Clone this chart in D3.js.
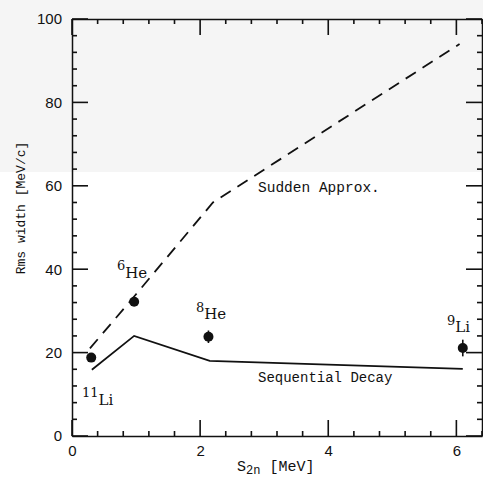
<!DOCTYPE html>
<html>
<head>
<script src="https://d3js.org/d3.v7.min.js"></script>
<style>
  body { margin: 0; background: #fff; }
  .tick text { font: 15px "Liberation Sans", sans-serif; fill: #111; }
  .axis path { stroke: #111; stroke-width: 1.5; }
  .tt { font-family: "Liberation Mono", monospace; fill: #111; }
  .nuc { font-family: "DejaVu Serif", serif; fill: #111; }
</style>
</head>
<body>
<svg id="chart"></svg>
<script>
// curves (S2n in MeV, rms width in MeV/c)
var suddenX = [0.28, 1.0, 2.2, 6.05];
var suddenY = [21, 34, 56, 94];
var seqX = [0.31, 0.97, 2.15, 6.1];
var seqY = [15.9, 24, 18, 16.1];

// measured points
var massNum = ["11", "6", "8", "9"];
var element = ["Li", "He", "He", "Li"];
var pointX = [0.3, 0.97, 2.13, 6.1];
var pointY = [18.8, 32.2, 23.8, 21.1];
var pointErr = [0, 0, 1.5, 2];

var xMajor = [0, 2, 4, 6];
var yMajor = [0, 20, 40, 60, 80, 100];

var W = 483, H = 479;
var x = d3.scaleLinear().domain([0, 6.4]).range([72, 482]);
var y = d3.scaleLinear().domain([0, 100]).range([436, 19]);

var svg = d3.select("#chart").attr("width", W).attr("height", H);

// faint grey band across the top of the scan
svg.append("rect").attr("x", 0).attr("y", 0).attr("width", W).attr("height", 172)
   .attr("fill", "#f5f5f5");

var xMinor = d3.range(0, 6.41, 0.4).filter(function(v) { return Math.abs(v / 2 - Math.round(v / 2)) > 0.01; });
var yMinor = d3.range(0, 100.1, 4).filter(function(v) { return v % 20 !== 0; });

// frame + labels from the axes
svg.append("g").attr("class", "axis").attr("transform", "translate(0," + y(0) + ")")
   .call(d3.axisBottom(x).tickValues(xMajor).tickSize(0).tickPadding(9).tickFormat(d3.format("d")));
svg.append("g").attr("class", "axis").attr("transform", "translate(" + x(0) + ",0)")
   .call(d3.axisLeft(y).tickValues(yMajor).tickSize(0).tickPadding(10).tickFormat(d3.format("d")));
svg.append("g").attr("class", "axis").attr("transform", "translate(0," + y(100) + ")")
   .call(d3.axisTop(x).tickValues([]).tickSize(0));
svg.append("g").attr("class", "axis").attr("transform", "translate(" + x(6.4) + ",0)")
   .call(d3.axisRight(y).tickValues([]).tickSize(0));

// inward tick marks on all four sides, drawn as thin bars
var tw = 1.6;
var tickG = svg.append("g").attr("fill", "#111");
function xTicks(vals, len) {
    tickG.selectAll(null).data(vals).enter().append("rect")
        .attr("x", function(d) { return x(d) - tw / 2; }).attr("y", y(0) - len)
        .attr("width", tw).attr("height", len);
    tickG.selectAll(null).data(vals).enter().append("rect")
        .attr("x", function(d) { return x(d) - tw / 2; }).attr("y", y(100))
        .attr("width", tw).attr("height", len);
}
function yTicks(vals, len) {
    tickG.selectAll(null).data(vals).enter().append("rect")
        .attr("x", x(0)).attr("y", function(d) { return y(d) - tw / 2; })
        .attr("width", len).attr("height", tw);
    tickG.selectAll(null).data(vals).enter().append("rect")
        .attr("x", x(6.4) - len).attr("y", function(d) { return y(d) - tw / 2; })
        .attr("width", len).attr("height", tw);
}
xTicks(xMinor, 5); xTicks(xMajor, 16);
yTicks(yMinor, 5); yTicks(yMajor, 16);

// curves
var line = d3.line().x(function(d) { return x(d[0]); }).y(function(d) { return y(d[1]); });
svg.append("path").datum(d3.zip(suddenX, suddenY)).attr("d", line)
   .attr("fill", "none").attr("stroke", "#111").attr("stroke-width", 1.8).attr("stroke-dasharray", "12,8");
svg.append("path").datum(d3.zip(seqX, seqY)).attr("d", line)
   .attr("fill", "none").attr("stroke", "#111").attr("stroke-width", 1.8);

// points with error bars
var pts = d3.range(pointX.length);
svg.selectAll(".err").data(pts.filter(function(i) { return pointErr[i] > 0; })).enter().append("rect")
   .attr("x", function(i) { return x(pointX[i]) - 0.8; }).attr("width", 1.6)
   .attr("y", function(i) { return y(pointY[i] + pointErr[i]); })
   .attr("height", function(i) { return y(pointY[i] - pointErr[i]) - y(pointY[i] + pointErr[i]); })
   .attr("fill", "#111");
svg.selectAll(".dot").data(pts).enter().append("circle")
   .attr("cx", function(i) { return x(pointX[i]); })
   .attr("cy", function(i) { return y(pointY[i]); })
   .attr("r", 5).attr("fill", "#111");

// nucleus labels: [index, x, baseline of mass number, drop of element symbol]
var labelPos = [[0, 82, 397, 8], [1, 117, 270, 8], [2, 196, 312, 7], [3, 447, 325, 7]];
labelPos.forEach(function(p) {
    var t = svg.append("text").attr("class", "nuc").attr("x", p[1]).attr("y", p[2]);
    t.append("tspan").style("font-size", "13px").text(massNum[p[0]]);
    t.append("tspan").attr("dy", p[3]).style("font-size", "15px").text(element[p[0]]);
});

// curve labels
svg.append("text").attr("class", "tt").attr("x", 258).attr("y", 192).style("font-size", "14.5px")
   .text("Sudden Approx.");
svg.append("text").attr("class", "tt").attr("x", 258).attr("y", 382).style("font-size", "14px")
   .text("Sequential Decay");

// axis titles
var xt = svg.append("text").attr("class", "tt").attr("x", 237).attr("y", 471).style("font-size", "15px");
xt.append("tspan").text("S");
xt.append("tspan").attr("dy", 3).style("font-size", "12px").text("2n");
xt.append("tspan").attr("dy", -3).text(" [MeV]");

svg.append("text").attr("class", "tt").attr("transform", "translate(25,208) rotate(-90)")
   .attr("text-anchor", "middle").style("font-size", "13px").text("Rms width [MeV/c]");
</script>
</body>
</html>
